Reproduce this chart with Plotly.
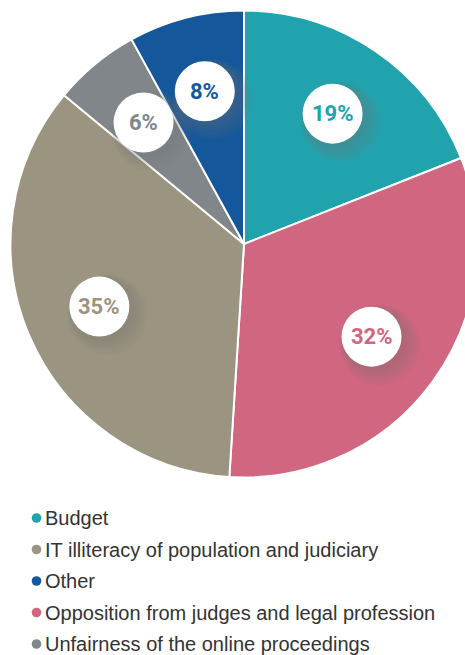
import math
import plotly.graph_objects as go

# Reasons cited, in the order the slices run clockwise from 12 o'clock
categories = [
    "Budget",
    "Opposition from judges and legal profession",
    "IT illiteracy of population and judiciary",
    "Unfairness of the online proceedings",
    "Other",
]
shares = [19, 32, 35, 6, 8]
colors = ["#21a3ae", "#d0667f", "#9b9480", "#80868a", "#14589b"]

# Order of the rows in the legend
legend_order = [
    "Budget",
    "IT illiteracy of population and judiciary",
    "Other",
    "Opposition from judges and legal profession",
    "Unfairness of the online proceedings",
]

W, H = 480, 655
cx, cy, R = 244, 244, 233.5

fig = go.Figure(
    go.Pie(
        labels=categories,
        values=shares,
        sort=False,
        direction="clockwise",
        rotation=0,
        marker=dict(colors=colors, line=dict(color="white", width=2)),
        textinfo="none",
        hoverinfo="label+percent",
        showlegend=False,
        domain=dict(x=[(cx - R) / W, (cx + R) / W],
                    y=[1 - (cy + R) / H, 1 - (cy - R) / H]),
    )
)

def px_to_paper(x, y):
    return x / W, 1 - y / H

shapes = []
annotations = []
total = sum(shares)
cum = 0.0
label_r = 30
dist = 0.675 * R
for cat, v, col in zip(categories, shares, colors):
    ang = 2 * math.pi * (cum + v / 2) / total
    cum += v
    lx = cx + dist * math.sin(ang)
    ly = cy - dist * math.cos(ang)
    ax, ay = px_to_paper(lx, ly)
    # soft drop shadow under each badge
    for k in range(1, 8):
        rr = label_r + 1.5 * k
        off = 2 + 0.9 * k
        shapes.append(dict(
            type="circle", xref="paper", yref="paper",
            xsizemode="pixel", ysizemode="pixel",
            xanchor=ax, yanchor=ay,
            x0=-rr + off, x1=rr + off, y0=-rr - off, y1=rr - off,
            fillcolor="rgba(120,120,120,0.06)", line=dict(width=0),
            layer="above",
        ))
    shapes.append(dict(
        type="circle", xref="paper", yref="paper",
        xsizemode="pixel", ysizemode="pixel",
        xanchor=ax, yanchor=ay,
        x0=-label_r, x1=label_r, y0=-label_r, y1=label_r,
        fillcolor="white", line=dict(width=0), layer="above",
    ))
    annotations.append(dict(
        x=ax, y=ay, xref="paper", yref="paper", showarrow=False,
        text=f"<b>{v}%</b>", xanchor="center", yanchor="middle",
        font=dict(family="Roboto", size=22, color=col),
    ))

# Legend rows with round markers
row0, row_gap = 518, 31.5
for i, cat in enumerate(legend_order):
    col = colors[categories.index(cat)]
    y = row0 + i * row_gap
    mx, my = px_to_paper(36.5, y)
    shapes.append(dict(
        type="circle", xref="paper", yref="paper",
        xsizemode="pixel", ysizemode="pixel",
        xanchor=mx, yanchor=my, x0=-4.8, x1=4.8, y0=-4.8, y1=4.8,
        fillcolor=col, line=dict(width=0), layer="above",
    ))
    tx, ty = px_to_paper(43, y)
    annotations.append(dict(
        x=tx, y=ty, xref="paper", yref="paper", showarrow=False,
        text=cat, xanchor="left", yanchor="middle",
        font=dict(family="Liberation Sans", size=20, color="#333333"),
    ))

fig.update_layout(
    width=W, height=H,
    margin=dict(l=0, r=0, t=0, b=0),
    paper_bgcolor="white", plot_bgcolor="white",
    shapes=shapes, annotations=annotations,
)

fig.write_html(
    "out.html",
    post_script="document.documentElement.style.overflow='hidden';"
                "document.body.style.overflow='hidden';",
)
